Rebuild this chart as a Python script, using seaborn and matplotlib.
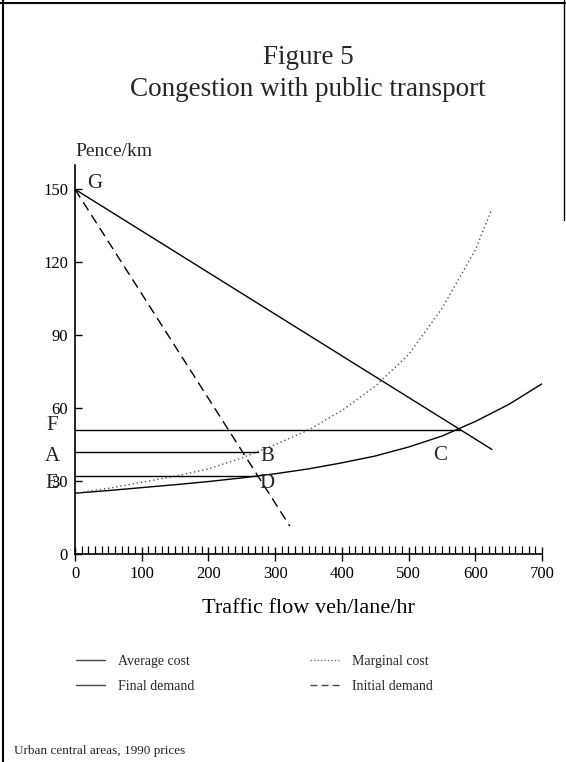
import matplotlib
matplotlib.use("Agg")
import matplotlib.pyplot as plt
import seaborn as sns
import pandas as pd
from matplotlib.ticker import MultipleLocator
from matplotlib.lines import Line2D

# ---- data ----
flow_ac = [0, 50, 100, 150, 200, 250, 300, 350, 400, 450, 500, 550, 600, 650, 700]
avg_cost = [25, 26.1, 27.3, 28.5, 29.8, 31.3, 33, 35, 37.5, 40.3, 44, 48.5, 54.5, 61.5, 70]

flow_mc = [0, 50, 100, 150, 200, 250, 300, 350, 400, 450, 500, 550, 600, 625]
marg_cost = [25, 27, 29.5, 32, 35, 39.5, 45, 51, 59, 69, 82, 101, 125, 142]

final_demand_flow = [0, 625]
final_demand_price = [150, 43]

initial_demand_flow = [0, 322]
initial_demand_price = [150, 11.5]

level_names = ["F", "A", "E"]
level_prices = [51, 42, 32]
level_ends = [577, 275, 273]

point_names = ["G", "B", "D", "C"]
point_x = [18, 288, 288, 547]
point_y = [152.5, 40.3, 29.2, 40.7]
label_side_x = -34.5
label_side_y = [53, 40.3, 29.2]

x_ticks = [0, 100, 200, 300, 400, 500, 600, 700]
y_ticks = [0, 30, 60, 90, 120, 150]

legend_labels = ["Average cost", "Final demand", "Marginal cost", "Initial demand"]

# ---- style ----
sns.set_theme(style="white")
plt.rcParams['font.family'] = ['Liberation Serif', 'DejaVu Serif']
plt.rcParams['axes.edgecolor'] = 'black'

W, H = 566, 762
fig = plt.figure(figsize=(W / 100, H / 100), dpi=100)
fig.patch.set_facecolor('white')

def fx(px):
    return px / W

def fy(py):
    return 1 - py / H

ax = fig.add_axes([fx(75), fy(554), fx(542) - fx(75), fy(165) - fy(554)])
ax.set_facecolor('white')

df_ac = pd.DataFrame({"flow": flow_ac, "cost": avg_cost})
df_mc = pd.DataFrame({"flow": flow_mc, "cost": marg_cost})
df_fd = pd.DataFrame({"flow": final_demand_flow, "cost": final_demand_price})
df_id = pd.DataFrame({"flow": initial_demand_flow, "cost": initial_demand_price})

sns.lineplot(data=df_ac, x="flow", y="cost", ax=ax, color='black', lw=1.0, estimator=None)
sns.lineplot(data=df_mc, x="flow", y="cost", ax=ax, color='#555555', lw=1.0, estimator=None,
             linestyle=(0, (1, 2)))
sns.lineplot(data=df_fd, x="flow", y="cost", ax=ax, color='black', lw=1.0, estimator=None)
sns.lineplot(data=df_id, x="flow", y="cost", ax=ax, color='black', lw=1.0, estimator=None,
             linestyle=(0, (7, 4)))

for p, e in zip(level_prices, level_ends):
    sns.lineplot(x=[0, e], y=[p, p], ax=ax, color='black', lw=1.0, estimator=None)

ax.set_xlim(0, 700)
ax.set_ylim(0, 160)
ax.set_xticks(x_ticks)
ax.set_yticks(y_ticks)
ax.xaxis.set_minor_locator(MultipleLocator(10))
for s in ['top', 'right']:
    ax.spines[s].set_visible(False)
for s in ['left', 'bottom']:
    ax.spines[s].set_linewidth(1.2)
    ax.spines[s].set_color('black')
ax.tick_params(axis='x', which='major', direction='inout', length=10, width=1.0,
               labelsize=12, pad=4, bottom=True, colors='black')
ax.tick_params(axis='x', which='minor', direction='in', length=5.5, width=0.9, bottom=True,
               colors='black')
ax.tick_params(axis='y', which='major', direction='in', length=5, width=1.0,
               labelsize=12, pad=5, left=True, colors='black')
ax.set_xlabel("Traffic flow veh/lane/hr", fontsize=16, labelpad=12, color='black')
ax.set_ylabel("")
ax.grid(False)

ax.text(0, 1.012, "Pence/km", transform=ax.transAxes, fontsize=14, ha='left', va='bottom')

for n, yv in zip(level_names, label_side_y):
    ax.text(label_side_x, yv, n, fontsize=15, ha='center', va='center', clip_on=False)
for n, xv, yv in zip(point_names, point_x, point_y):
    ax.text(xv, yv, n, fontsize=15, ha='left' if n == 'G' else 'center', va='center',
            clip_on=False)

# title
fig.text(fx(308), fy(57), "Figure 5", fontsize=19.5, ha='center', va='center')
fig.text(fx(308), fy(89), "Congestion with public transport", fontsize=19.5, ha='center',
         va='center')

# legend
handles = [Line2D([], [], color='#444444', lw=1.0),
           Line2D([], [], color='#444444', lw=1.0),
           Line2D([], [], color='#777777', lw=1.0, linestyle=(0, (1, 1.5))),
           Line2D([], [], color='#444444', lw=1.0, linestyle=(0, (5, 3)))]
fig.legend(handles, legend_labels, ncol=2, loc='upper left', bbox_to_anchor=(fx(76), fy(655)),
           frameon=False, fontsize=10, borderpad=0, handlelength=2.1, handletextpad=0.9,
           columnspacing=8.35, labelspacing=0.85, borderaxespad=0)

fig.text(fx(14), fy(751), "Urban central areas, 1990 prices", fontsize=9.5, ha='left',
         va='center')

# page frame
fig.add_artist(Line2D([fx(3), fx(3)], [0, 1], transform=fig.transFigure, color='black', lw=1.5))
fig.add_artist(Line2D([0, 1], [fy(3), fy(3)], transform=fig.transFigure, color='black', lw=1.5))
fig.add_artist(Line2D([fx(564), fx(564)], [fy(0), fy(220)], transform=fig.transFigure,
                      color='black', lw=1.0))

fig.savefig("out.png", dpi=100, facecolor='white')
